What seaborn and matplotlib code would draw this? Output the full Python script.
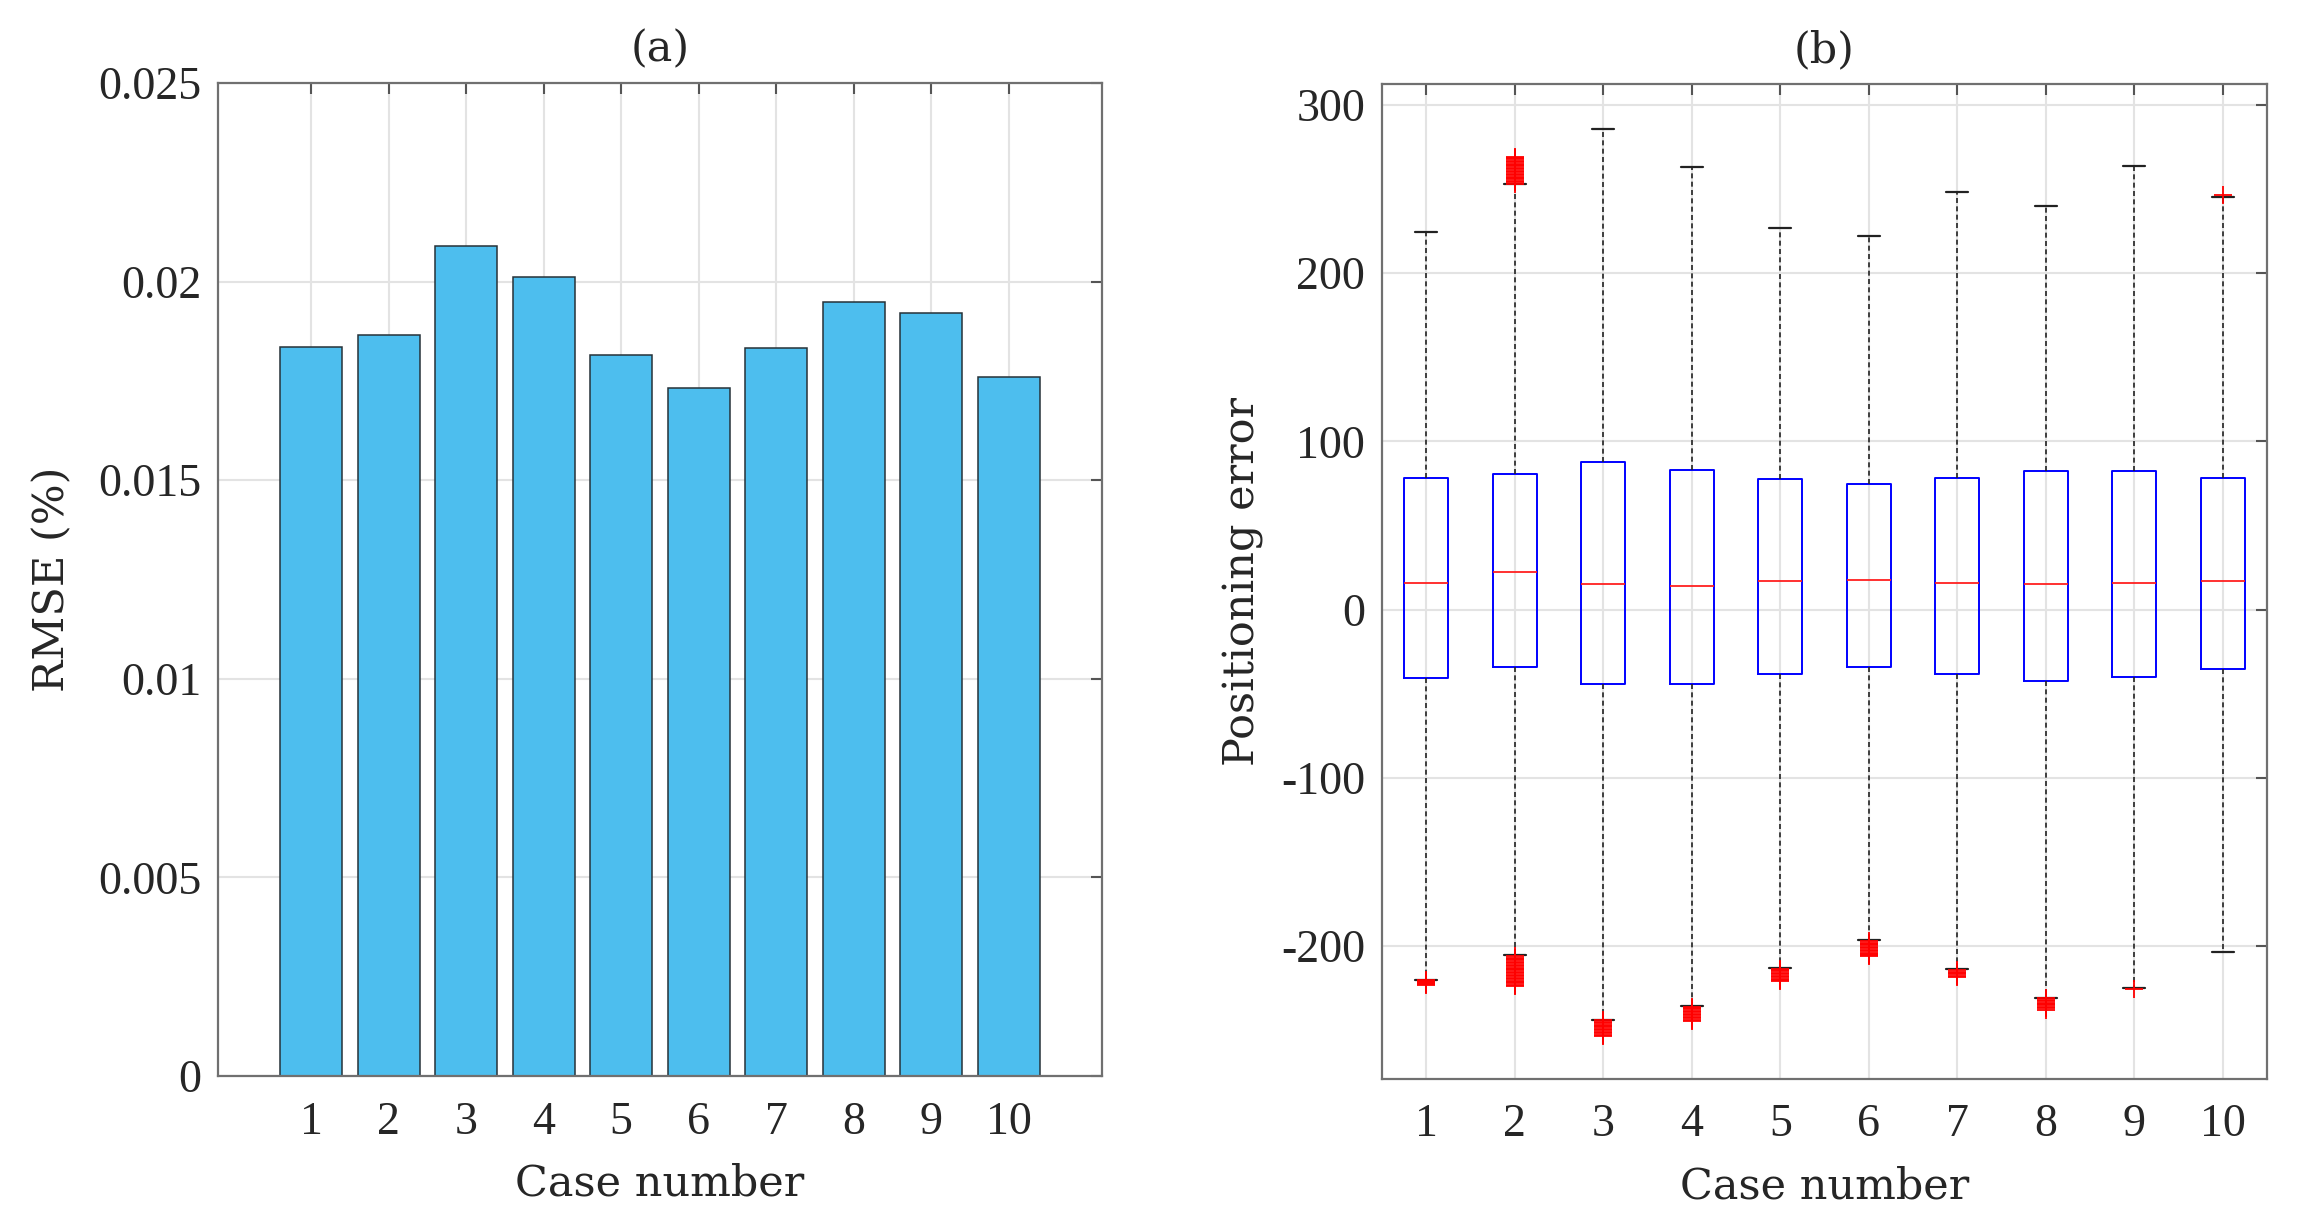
import matplotlib
matplotlib.use("Agg")
import matplotlib.pyplot as plt
import seaborn as sns

# (a) RMSE per case
cases = ["1", "2", "3", "4", "5", "6", "7", "8", "9", "10"]
rmse = [0.01836, 0.01865, 0.0209, 0.02011, 0.01814, 0.01733, 0.01834, 0.01948, 0.0192, 0.01761]
rmse_ticks = [0, 0.005, 0.01, 0.015, 0.02, 0.025]
rmse_ticklabels = ["0", "0.005", "0.01", "0.015", "0.02", "0.025"]

# (b) positioning error box stats per case
box_pos = [1, 2, 3, 4, 5, 6, 7, 8, 9, 10]
q1 = [-40.8, -34.1, -44.4, -44.4, -38.3, -34.1, -38.3, -42.5, -40.2, -35.0]
med = [15.9, 22.4, 15.4, 14.0, 16.8, 17.8, 15.9, 15.4, 15.9, 17.3]
q3 = [78.3, 80.8, 87.9, 83.2, 77.6, 74.8, 78.5, 82.2, 82.2, 78.5]
whislo = [-219.9, -205.4, -243.7, -235.5, -212.9, -196.6, -213.9, -230.6, -225.0, -203.6]
whishi = [224.7, 252.9, 285.9, 263.4, 227.0, 222.1, 248.5, 240.0, 264.0, 245.5]
# outliers (dense clusters read as closely packed points)
fliers = [
    [-220.2, -220.9, -221.6, -222.2, -222.7, -223.1],
    [253.3, 254.1, 255.0, 255.8, 256.7, 257.5, 258.4, 259.2, 260.1, 261.0, 261.8,
     262.7, 263.5, 264.4, 265.2, 266.1, 267.0, 267.8, 268.6, 269.4,
     -205.9, -206.8, -207.6, -208.5, -209.3, -210.2, -211.1, -211.9, -212.8, -213.6,
     -214.5, -215.4, -216.2, -217.1, -217.9, -218.8, -219.6, -220.5, -221.4, -222.2,
     -223.0, -223.6],
    [-244.2, -245.0, -245.9, -246.7, -247.6, -248.4, -249.3, -250.1, -251.0, -251.8,
     -252.6, -253.3],
    [-236.0, -236.9, -237.7, -238.6, -239.4, -240.3, -241.1, -242.0, -242.9, -243.8,
     -244.7],
    [-213.4, -214.2, -215.1, -215.9, -216.8, -217.6, -218.5, -219.3, -220.0, -220.5],
    [-197.1, -197.9, -198.8, -199.6, -200.5, -201.3, -202.2, -203.0, -203.9, -204.7,
     -205.5, -206.1],
    [-214.4, -215.2, -216.1, -216.9, -217.8, -218.5],
    [-231.1, -231.9, -232.8, -233.6, -234.5, -235.3, -236.2, -237.1, -237.9],
    [-225.4],
    [246.7],
]
err_ticks = [-200, -100, 0, 100, 200, 300]
err_ticklabels = ["-200", "-100", "0", "100", "200", "300"]

sns.set_theme(style="white")
plt.rcParams["font.family"] = ["Liberation Serif", "DejaVu Serif"]
plt.rcParams["axes.unicode_minus"] = False

LABEL_FONT = dict(family="DejaVu Serif", size=31, color="#262626")
GRID = "#e3e3e3"
SPINE = "#707070"

fig = plt.figure(figsize=(22.99, 12.30), dpi=100)
ax1 = fig.add_axes([0.0948, 0.1252, 0.3845, 0.8073])
ax2 = fig.add_axes([0.6011, 0.1228, 0.3850, 0.8089])

# ---- (a) bars
sns.barplot(x=cases, y=rmse, color="#4DBEEE", saturation=1, width=0.8,
            edgecolor="#263238", linewidth=1.1, ax=ax1)
ax1.set_xlim(-1.2, 10.2)
ax1.set_ylim(0, 0.025)
ax1.set_yticks(rmse_ticks)
ax1.set_yticklabels(rmse_ticklabels)
ax1.set_xlabel("Case number", labelpad=14, **LABEL_FONT)
ax1.set_ylabel("RMSE (%)", labelpad=18, **LABEL_FONT)
ax1.set_title("(a)", pad=16, **LABEL_FONT)

# ---- (b) boxes
stats = [
    dict(q1=q1[i], med=med[i], q3=q3[i], whislo=whislo[i], whishi=whishi[i], fliers=fliers[i])
    for i in range(len(box_pos))
]
ax2.bxp(stats, positions=box_pos, widths=0.5, showfliers=True,
        boxprops=dict(color="#0000ff", linewidth=1.4),
        medianprops=dict(color="#ff2020", linewidth=1.3),
        whiskerprops=dict(color="#222222", linewidth=1.2, linestyle=(0, (3, 2))),
        capprops=dict(color="#222222", linewidth=1.6),
        flierprops=dict(marker="+", markeredgecolor="#ff0000", markersize=13, markeredgewidth=1.3))
ax2.set_xlim(0.5, 10.5)
ax2.set_ylim(-279, 312.5)
ax2.set_xticks(box_pos)
ax2.set_xticklabels(cases)
ax2.set_yticks(err_ticks)
ax2.set_yticklabels(err_ticklabels)
ax2.set_xlabel("Case number", labelpad=14, **LABEL_FONT)
ax2.set_ylabel("Positioning error", labelpad=12, **LABEL_FONT)
ax2.set_title("(b)", pad=16, **LABEL_FONT)

for ax in (ax1, ax2):
    ax.set_axisbelow(True)
    ax.grid(True, color=GRID, linewidth=1.5)
    for s in ax.spines.values():
        s.set_visible(True)
        s.set_color(SPINE)
        s.set_linewidth(1.6)
    ax.tick_params(direction="in", top=True, right=True, length=8, width=1.5,
                   color="#555555", labelsize=33, labelcolor="#262626")
    ax.tick_params(axis="x", pad=18)
    ax.tick_params(axis="y", pad=12)

fig.savefig("out.png", dpi=100)
